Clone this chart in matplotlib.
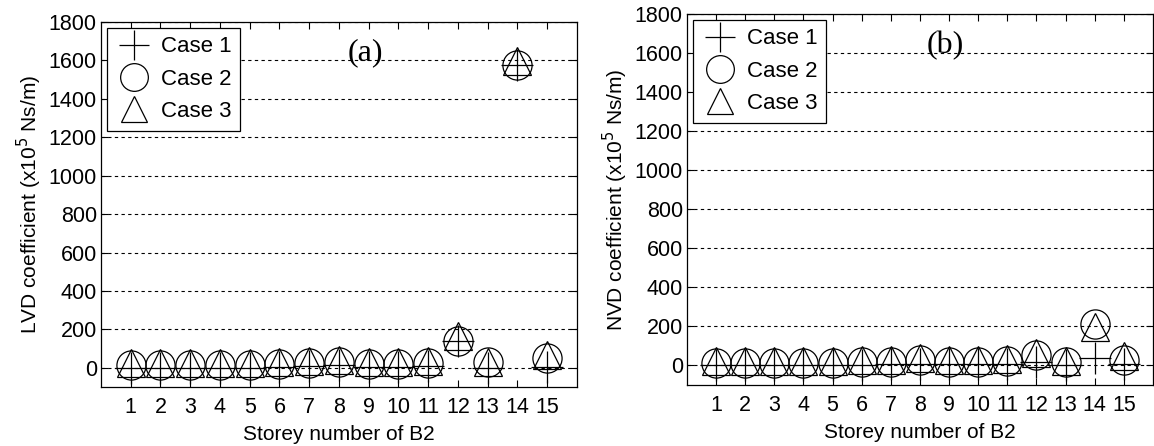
import matplotlib
matplotlib.use("Agg")
import matplotlib.pyplot as plt

plt.rcParams["font.family"] = ["Liberation Sans", "DejaVu Sans"]

storeys = list(range(1, 16))
case_labels = ["Case 1", "Case 2", "Case 3"]

# panel (a): LVD coefficient
lvd_case1 = [0, 0, 0, 0, 0, 5, 10, 15, 5, 5, 10, 137, 0, 1578, 5]
lvd_case2 = [15, 15, 15, 15, 15, 20, 25, 30, 20, 20, 25, 138, 28, 1577, 49]
lvd_case3 = [25, 25, 25, 25, 25, 30, 35, 40, 30, 30, 35, 164, 32, 1598, 67]

# panel (b): NVD coefficient
nvd_case1 = [0, 0, 0, 0, 0, 0, 5, 10, 5, 5, 10, 20, 0, 40, 5]
nvd_case2 = [15, 15, 15, 15, 15, 18, 20, 28, 18, 20, 25, 56, 18, 211, 30]
nvd_case3 = [25, 25, 25, 25, 25, 28, 30, 38, 28, 30, 35, 62, 22, 198, 46]

yticks = [0, 200, 400, 600, 800, 1000, 1200, 1400, 1600, 1800]

fig = plt.figure(figsize=(11.54, 4.46), dpi=100)
ax_a = fig.add_axes([0.0875, 0.1323, 0.4125, 0.8184])
ax_b = fig.add_axes([0.5953, 0.1368, 0.4038, 0.8318])

panels = [
    (ax_a, [lvd_case1, lvd_case2, lvd_case3], "LVD", "(a)"),
    (ax_b, [nvd_case1, nvd_case2, nvd_case3], "NVD", "(b)"),
]
markers = [("+", 23), ("o", 21), ("^", 20)]

for ax, series, name, tag in panels:
    for vals, (m, ms), lab in zip(series, markers, case_labels):
        ax.plot(storeys, vals, linestyle="none", marker=m, markersize=ms,
                markerfacecolor="none", markeredgecolor="black",
                markeredgewidth=0.9, label=lab, clip_on=True)
    ax.set_xlim(0, 16)
    ax.set_ylim(-100, 1800)
    ax.set_xticks(storeys)
    ax.set_yticks(yticks)
    ax.yaxis.grid(True, linestyle=(0, (3, 3)), color="black", linewidth=0.8)
    ax.tick_params(direction="in", top=True, right=True, length=5,
                   labelsize=15.5, width=0.8)
    ax.tick_params(axis="x", pad=7)
    ax.tick_params(axis="y", pad=3)
    for sp in ax.spines.values():
        sp.set_linewidth(0.9)
    ax.set_xlabel("Storey number of B2", fontsize=15, labelpad=5)
    ax.set_ylabel(name + r" coefficient (x10$^5$ Ns/m)", fontsize=15, labelpad=3)
    ax.text(0.555, 0.915, tag, transform=ax.transAxes, fontsize=23,
            family="Liberation Serif", ha="center", va="center")
    leg = ax.legend(loc="upper left", fontsize=16, frameon=True, fancybox=False,
                    framealpha=1, edgecolor="black", borderaxespad=0.25,
                    handletextpad=0.35, borderpad=0.4, labelspacing=0.5,
                    handlelength=1.7, markerscale=0.95)
    leg.get_frame().set_linewidth(0.9)

fig.savefig("out.png", dpi=100)
